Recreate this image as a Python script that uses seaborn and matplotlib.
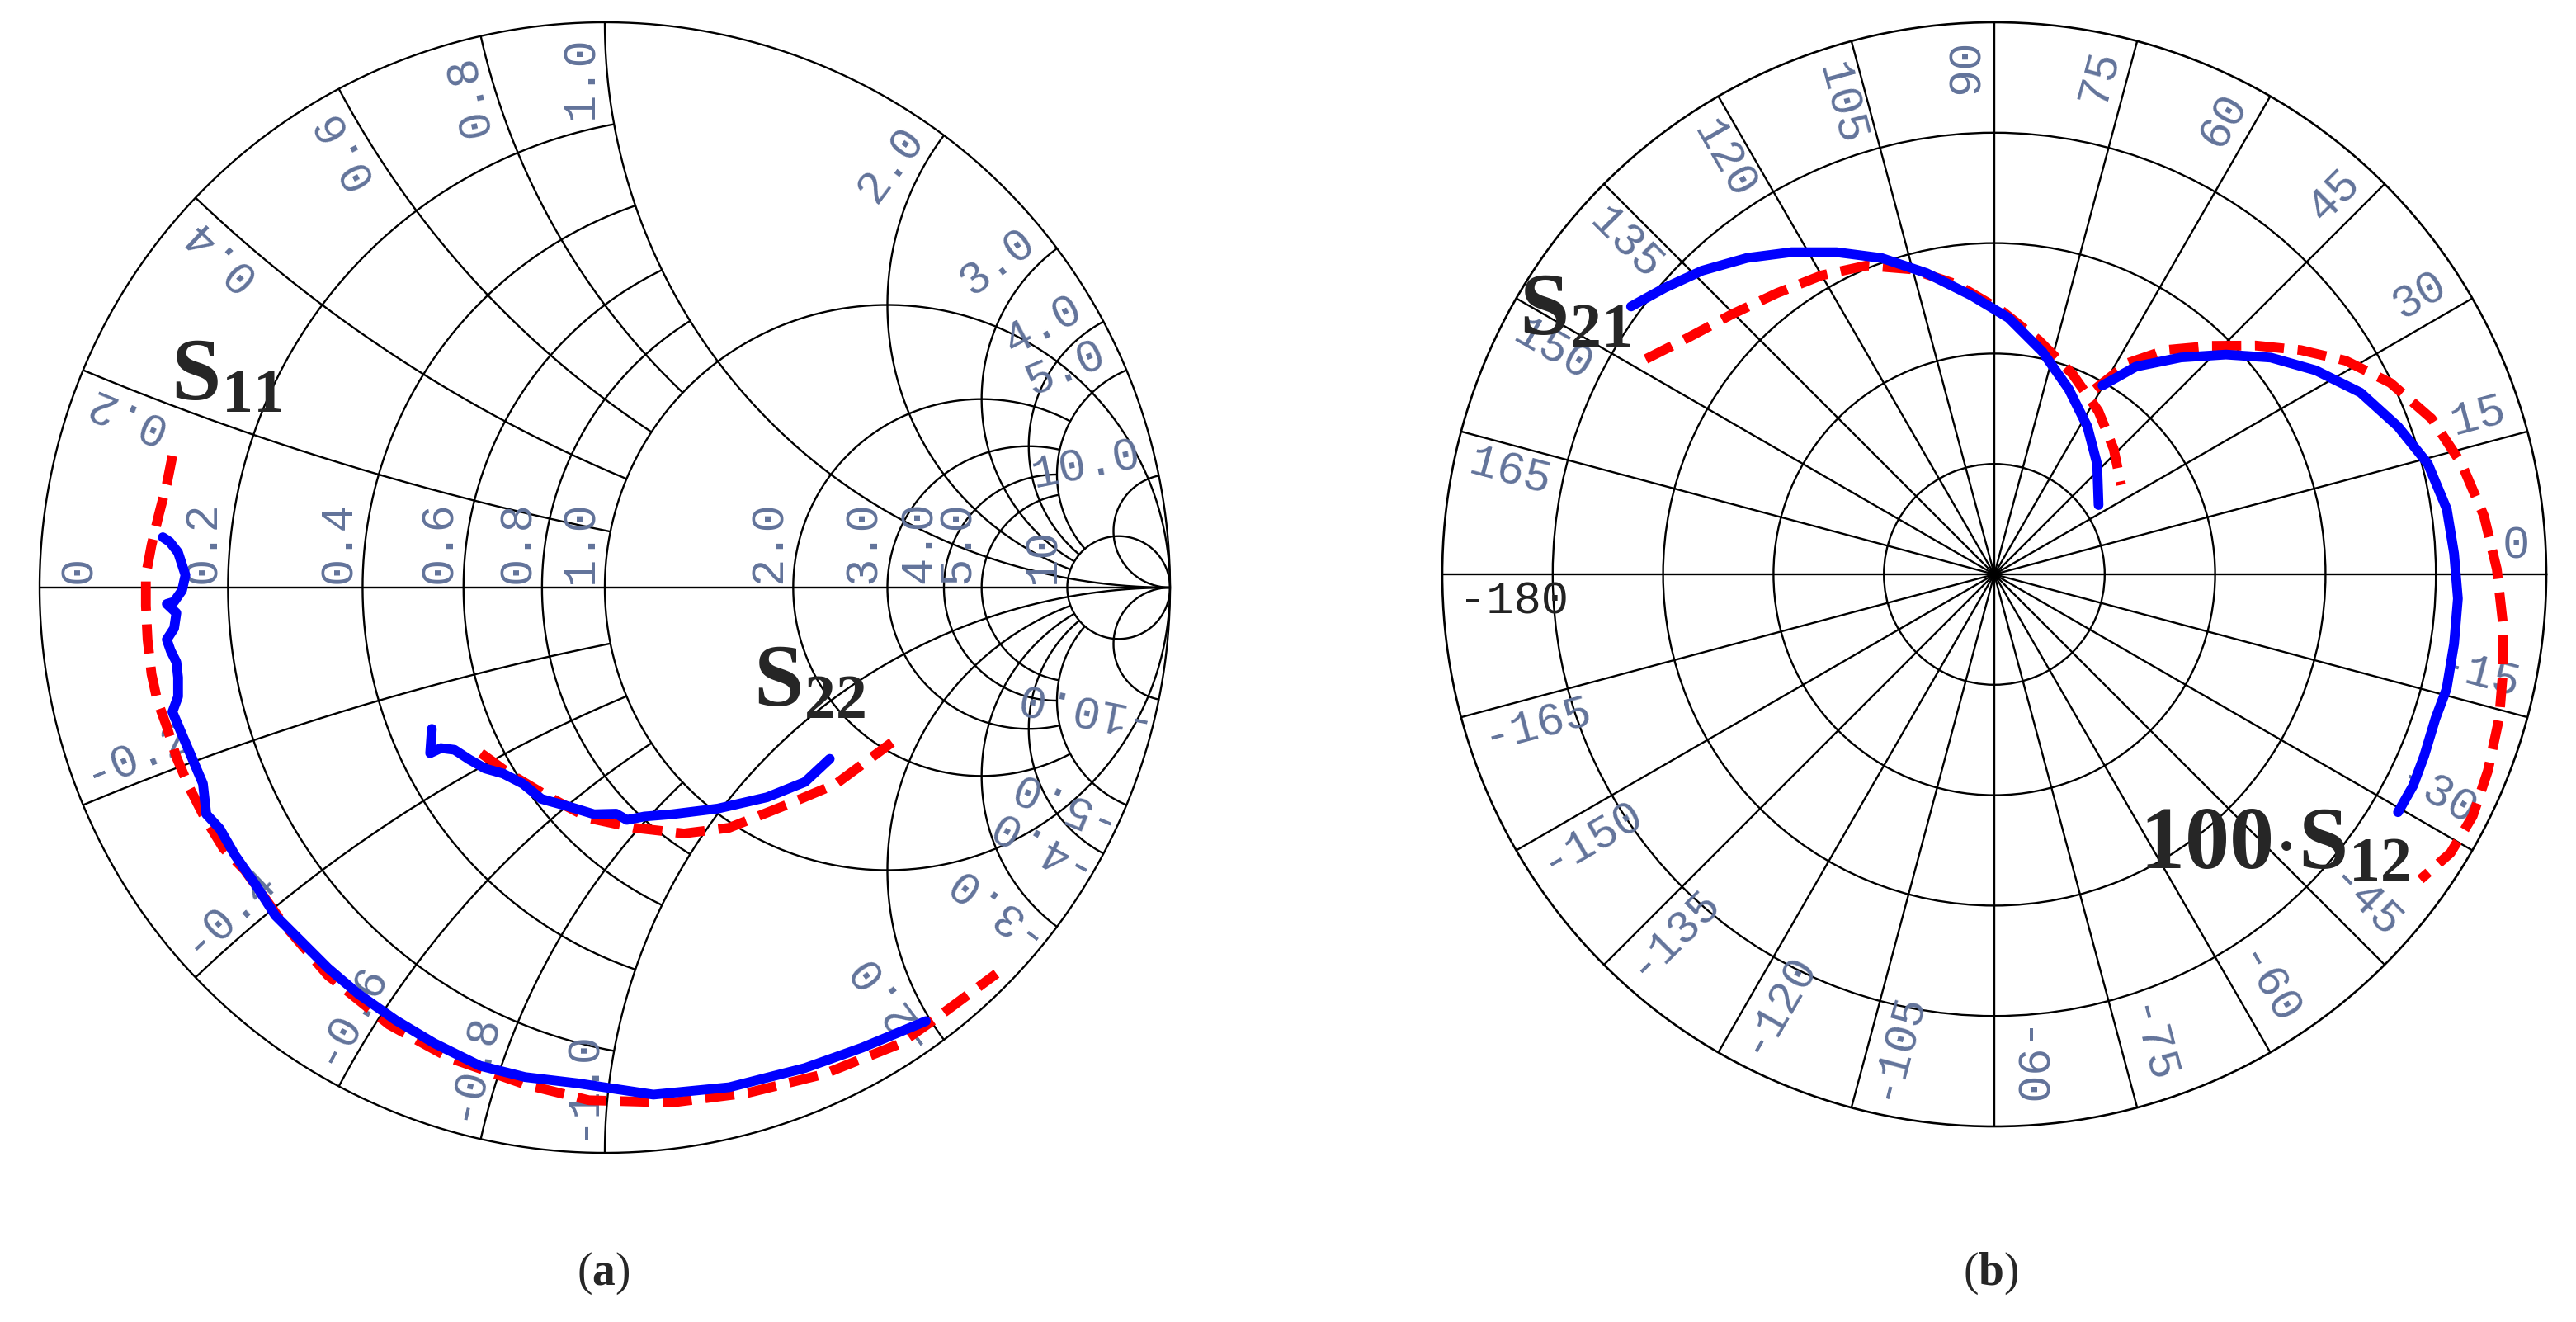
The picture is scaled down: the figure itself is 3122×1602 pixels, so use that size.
import numpy as np
import pandas as pd
import matplotlib
matplotlib.use("Agg")
import matplotlib.pyplot as plt
import seaborn as sns

# ---------------- data ----------------
# (a) Smith chart: reflection coefficient, real / imaginary part
s11_meas_re = [-0.782, -0.770, -0.755, -0.742, -0.748, -0.762, -0.775, -0.758, -0.762, -0.775,
               -0.768, -0.758, -0.755, -0.755, -0.765, -0.748, -0.728, -0.711, -0.705, -0.681,
               -0.654, -0.617, -0.583, -0.543, -0.490, -0.436, -0.369, -0.302, -0.221, -0.141,
               -0.048, 0.086, 0.220, 0.354, 0.455, 0.568]
s11_meas_im = [0.089, 0.081, 0.062, 0.022, -0.005, -0.025, -0.029, -0.045, -0.072, -0.092,
               -0.112, -0.132, -0.159, -0.193, -0.220, -0.260, -0.307, -0.347, -0.401, -0.427,
               -0.474, -0.527, -0.580, -0.620, -0.673, -0.719, -0.766, -0.806, -0.846, -0.866,
               -0.877, -0.897, -0.884, -0.850, -0.814, -0.767]
s11_sim_re = [-0.765, -0.775, -0.789, -0.802, -0.812, -0.812, -0.809, -0.802, -0.792, -0.775,
              -0.758, -0.735, -0.708, -0.675, -0.637, -0.570, -0.490, -0.382, -0.275, -0.141,
              -0.028, 0.119, 0.253, 0.387, 0.522, 0.589, 0.693]
s11_sim_im = [0.233, 0.183, 0.129, 0.075, 0.022, -0.032, -0.092, -0.153, -0.199, -0.246,
              -0.300, -0.354, -0.407, -0.461, -0.500, -0.593, -0.686, -0.773, -0.832, -0.879,
              -0.907, -0.911, -0.894, -0.861, -0.807, -0.760, -0.683]
s22_meas_re = [-0.306, -0.309, -0.290, -0.266, -0.240, -0.212, -0.180, -0.145, -0.112, -0.065,
               -0.019, 0.020, 0.039, 0.070, 0.119, 0.200, 0.287, 0.354, 0.398]
s22_meas_im = [-0.250, -0.293, -0.284, -0.287, -0.304, -0.320, -0.329, -0.347, -0.374, -0.387,
               -0.401, -0.400, -0.411, -0.405, -0.401, -0.391, -0.371, -0.344, -0.303]
s22_sim_re = [-0.219, -0.172, -0.105, -0.028, 0.052, 0.140, 0.220, 0.320, 0.408, 0.508]
s22_sim_im = [-0.293, -0.327, -0.367, -0.408, -0.425, -0.435, -0.425, -0.385, -0.348, -0.274]

# (b) polar plot: angle (deg) and magnitude
s21_meas_ang = [143.6, 139.0, 133.9, 128.0, 122.2, 116.1, 109.6, 102.7, 94.7, 86.8, 77.8, 68.1, 57.8, 47.0, 33.6]
s21_meas_mag = [4.088, 3.955, 3.817, 3.637, 3.448, 3.249, 3.041, 2.797, 2.534, 2.326, 2.063, 1.808, 1.582, 1.366, 1.134]
s21_sim_ang = [148.3, 142.5, 135.3, 127.7, 120.0, 112.5, 105.2, 97.4, 88.5, 79.2, 68.7, 57.4, 46.4, 35.2]
s21_sim_mag = [3.710, 3.511, 3.347, 3.219, 3.127, 3.027, 2.863, 2.649, 2.391, 2.157, 1.948, 1.752, 1.568, 1.406]
s12_meas_ang = [60.2, 55.7, 49.3, 43.5, 38.1, 32.4, 26.4, 20.1, 14.3, 8.2, 2.6, -3.0, -8.6, -14.2, -18.1, -22.9, -26.8, -30.5]
s12_meas_mag = [1.972, 2.278, 2.591, 2.892, 3.182, 3.448, 3.703, 3.894, 4.053, 4.141, 4.169, 4.205, 4.212, 4.226, 4.204, 4.227, 4.249, 4.244]
s12_sim_ang = [61.5, 57.6, 52.6, 46.5, 41.2, 36.2, 31.3, 25.8, 19.6, 13.3, 6.8, 0.6, -5.3, -11.0, -15.9, -21.7, -26.8, -31.4, -35.6]
s12_sim_mag = [1.909, 2.269, 2.558, 2.853, 3.146, 3.439, 3.725, 3.985, 4.204, 4.350, 4.467, 4.552, 4.625, 4.693, 4.755, 4.812, 4.855, 4.842, 4.747]

# grid values / tick labels
smith_values = [0.2, 0.4, 0.6, 0.8, 1.0, 2.0, 3.0, 4.0, 5.0, 10.0]
r_labels = ["0.2", "0.4", "0.6", "0.8", "1.0", "2.0", "3.0", "4.0", "5.0", "10"]
x_labels = ["0.2", "0.4", "0.6", "0.8", "1.0", "2.0", "3.0", "4.0", "5.0", "10.0"]
polar_angles = [0, 15, 30, 45, 60, 75, 90, 105, 120, 135, 150, 165, -180,
                -165, -150, -135, -120, -105, -90, -75, -60, -45, -30, -15]

# ---------------- style ----------------
sns.set_style("white")
plt.rcParams['font.family'] = ['Liberation Serif', 'DejaVu Sans']
plt.rcParams['mathtext.fontset'] = 'custom'
plt.rcParams['mathtext.rm'] = 'Liberation Serif'
plt.rcParams['mathtext.bf'] = 'Liberation Serif:bold'
plt.rcParams['mathtext.it'] = 'Liberation Serif:italic'

W, H = 3122, 1602
fig = plt.figure(figsize=(W / 100, H / 100), dpi=100)

GRID = dict(color='black', lw=1.7, zorder=1, solid_capstyle='butt')
LAB = dict(family='Liberation Mono', fontsize=40, color='#62739a', zorder=2)
BLUE = '#0000ff'
RED = '#ff0000'
LW = 8.5
dash = (0, (3.0, 1.4))

# ---------------- (a) Smith chart ----------------
cx, cy, R = 733, 712, 685
pad = 1.05
ax1 = fig.add_axes([(cx - R * pad) / W, (H - cy - R * pad) / H, 2 * R * pad / W, 2 * R * pad / H])
ax1.set_xlim(-pad, pad)
ax1.set_ylim(-pad, pad)
ax1.axis('off')


def gamma(z):
    return (z - 1) / (z + 1)


def x_limit(r):
    # how far each resistance circle runs in reactance
    if r < 1:
        return 1.0
    if r == 1 or r >= 10:
        return np.inf
    return 5.0


def r_limit(x):
    # how far each reactance arc runs in resistance
    if x < 1:
        return 1.0
    if x == 1 or x >= 10:
        return np.inf
    return 10.0


t = np.linspace(0, 2 * np.pi, 1000)
ax1.plot(np.cos(t), np.sin(t), **GRID)
ax1.plot([-1, 1], [0, 0], **GRID)

for v in smith_values:
    xm = np.arctan(x_limit(v))
    tt = np.linspace(-xm, xm, 800)
    g = gamma(v + 1j * np.tan(tt))
    ax1.plot(g.real, g.imag, **GRID)
    rm = np.arctan(r_limit(v))
    tt = np.linspace(0, rm, 800)
    for s in (1, -1):
        g = gamma(np.tan(tt) + 1j * s * v)
        ax1.plot(g.real, g.imag, **GRID)

# resistance labels along the real axis
ax1.text(-0.93, 0.008, "0", rotation=90, ha='center', va='bottom', **LAB)
for v, lab in zip(smith_values, r_labels):
    ax1.text(gamma(v) - 0.042, 0.008, lab, rotation=90, ha='center', va='bottom', **LAB)

# reactance labels around the rim
for v, lab in zip(smith_values, x_labels):
    phi = np.angle(gamma(1j * v))
    px = 0.975 * np.cos(phi) - 0.042 * np.sin(phi)
    py = 0.975 * np.sin(phi) + 0.042 * np.cos(phi)
    ax1.text(px, py, lab, rotation=np.degrees(phi), ha='right', va='center',
             rotation_mode='anchor', **LAB)
    phn = -phi
    px = 0.975 * np.cos(phn) + 0.042 * np.sin(phn)
    py = 0.975 * np.sin(phn) - 0.042 * np.cos(phn)
    ax1.text(px, py, "-" + lab, rotation=np.degrees(phn) + 180, ha='left', va='center',
             rotation_mode='anchor', **LAB)

sns.lineplot(x=s11_sim_re, y=s11_sim_im, sort=False, estimator=None, ax=ax1,
             color=RED, lw=LW, linestyle=dash, zorder=4)
sns.lineplot(x=s11_meas_re, y=s11_meas_im, sort=False, estimator=None, ax=ax1,
             color=BLUE, lw=LW, zorder=5)
sns.lineplot(x=s22_sim_re, y=s22_sim_im, sort=False, estimator=None, ax=ax1,
             color=RED, lw=LW, linestyle=dash, zorder=4)
sns.lineplot(x=s22_meas_re, y=s22_meas_im, sort=False, estimator=None, ax=ax1,
             color=BLUE, lw=LW, zorder=5)

ax1.text(-0.768, 0.333, r'$\mathbf{S_{11}}$', fontsize=78, ha='left', va='baseline', zorder=6)
ax1.text(0.263, -0.209, r'$\mathbf{S_{22}}$', fontsize=78, ha='left', va='baseline', zorder=6)

# ---------------- (b) polar chart ----------------
pcx, pcy, PR = 2417, 696, 669
ax2 = fig.add_axes([(pcx - PR) / W, (H - pcy - PR) / H, 2 * PR / W, 2 * PR / H], projection='polar')
ax2.set_ylim(0, 5)
ax2.set_yticks([1, 2, 3, 4])
ax2.set_yticklabels([])
ax2.set_xticks(np.deg2rad(np.arange(0, 360, 15)))
ax2.set_xticklabels([])
ax2.grid(True, color='black', lw=1.7)
ax2.spines['polar'].set_color('black')
ax2.spines['polar'].set_linewidth(1.9)
ax2.set_axisbelow(True)

r_out, off = 4.85, 0.25
for a in polar_angles:
    th = np.deg2rad(a) + np.arctan2(off, r_out)
    rr = np.hypot(r_out, off)
    lab_kw = dict(LAB)
    if a == -180:
        lab_kw['color'] = '#222222'
    if -90 <= a <= 90:
        ax2.text(th, rr, str(a), rotation=a, ha='right', va='center', rotation_mode='anchor', **lab_kw)
    else:
        rot = a - 180 if a > 0 else a + 180
        ax2.text(th, rr, str(a), rotation=rot, ha='left', va='center', rotation_mode='anchor', **lab_kw)

sns.lineplot(x=np.deg2rad(s21_sim_ang), y=s21_sim_mag, sort=False, estimator=None, ax=ax2,
             color=RED, lw=LW, linestyle=dash, zorder=4)
sns.lineplot(x=np.deg2rad(s21_meas_ang), y=s21_meas_mag, sort=False, estimator=None, ax=ax2,
             color=BLUE, lw=LW, zorder=5)
sns.lineplot(x=np.deg2rad(s12_sim_ang), y=s12_sim_mag, sort=False, estimator=None, ax=ax2,
             color=RED, lw=LW, linestyle=dash, zorder=4)
sns.lineplot(x=np.deg2rad(s12_meas_ang), y=s12_meas_mag, sort=False, estimator=None, ax=ax2,
             color=BLUE, lw=LW, zorder=5)
ax2.set_xlabel('')
ax2.set_ylabel('')
ax2.set_ylim(0, 5)

ax2.text(np.deg2rad(153.2), 4.823, r'$\mathbf{S_{21}}$', fontsize=78, ha='left', va='baseline', zorder=6)
ax2.text(np.deg2rad(-63.7), 2.968, r'$\mathbf{100{\cdot}S_{12}}$', fontsize=78, ha='left', va='baseline', zorder=6)

# panel captions
fig.text(731 / W, 1 - 1543 / H, r'($\mathbf{a}$)', fontsize=40, ha='center', va='center')
fig.text(2413 / W, 1 - 1543 / H, r'($\mathbf{b}$)', fontsize=40, ha='center', va='center')

fig.savefig('out.png', dpi=100, facecolor='white')
